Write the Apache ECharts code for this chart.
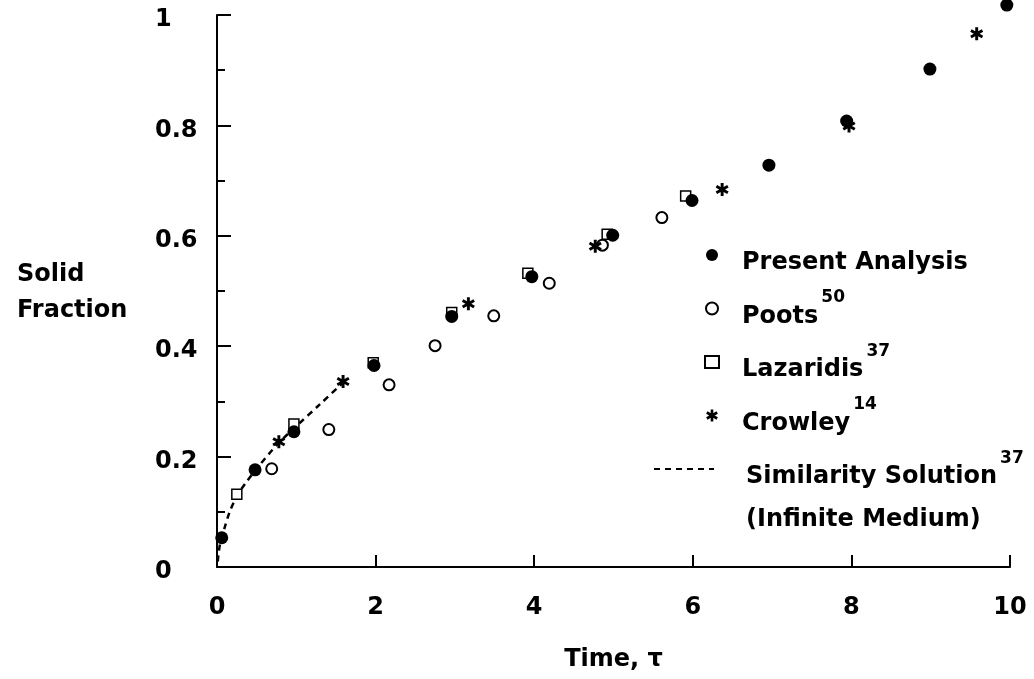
<!DOCTYPE html>
<html><head><meta charset="utf-8">
<script src="https://cdn.jsdelivr.net/npm/echarts@6/dist/echarts.min.js"></script>
<style>html,body{margin:0;padding:0;background:#fff}#c{width:1034px;height:679px}</style>
</head><body><div id="c"></div>
<script>
// ---- data ----
const presentAnalysis = [[0.06,0.053],[0.48,0.176],[0.97,0.245],[1.98,0.365],[2.96,0.454],[3.97,0.526],[4.99,0.601],[5.99,0.664],[6.96,0.728],[7.94,0.808],[8.99,0.902],[9.96,1.018]];
const poots = [[0.69,0.178],[1.41,0.249],[2.17,0.330],[2.75,0.401],[3.49,0.455],[4.19,0.514],[4.86,0.583],[5.61,0.633]];
const lazaridis = [[0.25,0.132],[0.97,0.259],[1.97,0.370],[2.96,0.461],[3.92,0.532],[4.92,0.603],[5.91,0.672]];
const crowley = [[0.78,0.227],[1.59,0.336],[3.17,0.477],[4.77,0.581],[6.37,0.684],[7.97,0.799],[9.58,0.966]];
const similarity = [[0.01,0.01],[0.02,0.025],[0.05,0.05],[0.1,0.073],[0.16,0.1],[0.25,0.128],[0.35,0.15],[0.5,0.178],[0.76,0.222],[1.0,0.255],[1.3,0.295],[1.59,0.334]];
const seriesNames = ['Present Analysis','Poots','Lazaridis','Crowley','Similarity Solution'];
const refNumbers = {'Poots':'50','Lazaridis':'37','Crowley':'14','Similarity Solution':'37'};
const similarityNote = '(Infinite Medium)';
const xAxisTitle = 'Time, \u03c4';
const yAxisTitle = 'Solid\nFraction';

const FONT = 'DejaVu Sans';
const ASTERISK = 'path://M39 0L61 0L61 100L39 100Z M12.2 15.47L98.8 65.47L87.8 84.53L1.2 34.53Z M98.8 34.53L12.2 84.53L1.2 65.47L87.8 15.47Z';

const chart = echarts.init(document.getElementById('c'), null, {renderer:'canvas'});
const richStyles = {
  t:{fontFamily:FONT,fontWeight:'bold',fontSize:24,color:'#000',lineHeight:40,verticalAlign:'bottom'},
  s:{fontFamily:FONT,fontWeight:'bold',fontSize:17,color:'#000',lineHeight:18,padding:[0,0,22,3],verticalAlign:'bottom'}
};
const fmt = name => refNumbers[name] ? `{t|${name}}{s|${refNumbers[name]}}` : `{t|${name}}`;
const yTitleLines = yAxisTitle.split('\n');
const yTitleRich = `{a|${yTitleLines[0]}}\n{b|${yTitleLines[1]}}`;
const titleFont = {fontFamily:FONT,fontWeight:'bold',fontSize:24,color:'#000',align:'left'};

chart.setOption({
  animation:false,
  backgroundColor:'#fff',
  grid:{left:217,right:24,top:15,bottom:112,containLabel:false},
  xAxis:{type:'value',min:0,max:10,interval:2,
    name:xAxisTitle,nameLocation:'middle',nameGap:81,
    nameTextStyle:{fontFamily:FONT,fontWeight:'bold',fontSize:24,color:'#000'},
    axisLine:{show:true,lineStyle:{color:'#000',width:2}},
    axisTick:{show:true,inside:true,length:12,lineStyle:{color:'#000',width:2}},
    axisLabel:{margin:29,fontFamily:FONT,fontWeight:'bold',fontSize:24,color:'#000',showMinLabel:true,showMaxLabel:true},
    splitLine:{show:false}},
  yAxis:{type:'value',min:0,max:1,interval:0.2,
    name:yTitleRich,nameLocation:'middle',nameRotate:0,nameGap:200,
    nameTextStyle:{align:'left',verticalAlign:'middle',
      rich:{a:Object.assign({lineHeight:39,padding:[10,0,0,0]},titleFont),b:Object.assign({lineHeight:43},titleFont)}},
    axisLine:{show:true,lineStyle:{color:'#000',width:2}},
    axisTick:{show:true,inside:true,length:14,lineStyle:{color:'#000',width:2}},
    minorTick:{show:true,splitNumber:2,length:8,lineStyle:{color:'#000',width:2}},
    axisLabel:{align:'left',verticalAlign:'top',lineHeight:10,margin:62,fontFamily:FONT,fontWeight:'bold',fontSize:24,color:'#000',showMinLabel:true,showMaxLabel:true,
      formatter:v=>String(Math.round(v*10)/10)},
    splitLine:{show:false}},
  legend:[
    {data:seriesNames.slice(0,4),orient:'vertical',left:704,top:249,padding:0,itemGap:14.5,itemWidth:14,itemHeight:12,
     selectedMode:false,formatter:fmt,
     textStyle:{padding:[0,0,0,18],rich:richStyles}},
    {data:[seriesNames[4]],orient:'vertical',left:653,top:450,padding:0,itemWidth:60,itemHeight:12,
     selectedMode:false,formatter:fmt,itemStyle:{opacity:0},
     textStyle:{padding:[0,0,0,27],rich:richStyles}}
  ],
  graphic:[
    {type:'text',left:746,top:508,style:{text:similarityNote,fontFamily:FONT,fontWeight:'bold',fontSize:24,fill:'#000'}}
  ],
  series:[
    {name:seriesNames[4],type:'line',data:similarity,smooth:0.3,symbol:'none',showSymbol:false,
     lineStyle:{color:'#000',width:2.5,type:[6,5]},itemStyle:{color:'#000'},z:1},
    {name:seriesNames[2],type:'scatter',data:lazaridis,symbol:'rect',symbolSize:10,clip:false,
     itemStyle:{color:'#fff',borderColor:'#000',borderWidth:1.5,opacity:1},z:2},
    {name:seriesNames[1],type:'scatter',data:poots,symbol:'circle',symbolSize:11,clip:false,
     itemStyle:{color:'#fff',borderColor:'#000',borderWidth:2,opacity:1},z:3},
    {name:seriesNames[3],type:'scatter',data:crowley,symbol:ASTERISK,symbolSize:13,clip:false,
     itemStyle:{color:'#000',opacity:1},z:4},
    {name:seriesNames[0],type:'scatter',data:presentAnalysis,symbol:'circle',symbolSize:13,clip:false,
     itemStyle:{color:'#000',opacity:1},z:5}
  ]
});
</script></body></html>
